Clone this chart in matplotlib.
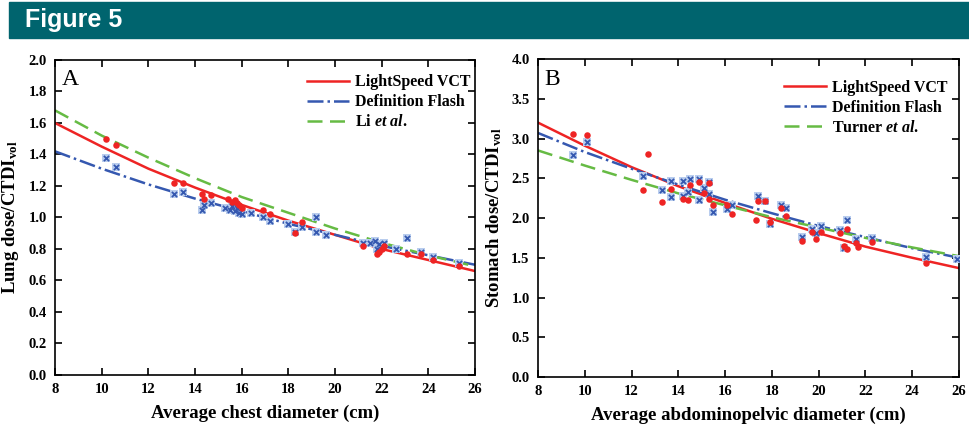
import numpy as np
import matplotlib
matplotlib.use("Agg")
import matplotlib.pyplot as plt
from matplotlib.patches import Rectangle

plt.rcParams['font.family'] = ['Liberation Serif', 'DejaVu Serif']
plt.rcParams['mathtext.fontset'] = 'custom'
plt.rcParams['mathtext.rm'] = 'Liberation Serif:bold'
plt.rcParams['mathtext.it'] = 'Liberation Serif:italic:bold'

# fitted curves read at each x tick
x_fit = [8, 10, 12, 14, 16, 18, 20, 22, 24, 26]
lung_vct = [1.60, 1.45, 1.31, 1.19, 1.08, 0.98, 0.89, 0.80, 0.73, 0.66]
lung_flash = [1.42, 1.31, 1.21, 1.12, 1.04, 0.96, 0.89, 0.82, 0.76, 0.70]
lung_li = [1.68, 1.52, 1.38, 1.25, 1.13, 1.03, 0.93, 0.84, 0.76, 0.69]

stom_vct = [3.20, 2.91, 2.64, 2.40, 2.19, 1.99, 1.81, 1.64, 1.50, 1.37]
stom_flash = [3.07, 2.83, 2.62, 2.42, 2.23, 2.06, 1.90, 1.76, 1.62, 1.50]
stom_turner = [2.85, 2.66, 2.48, 2.31, 2.16, 2.01, 1.88, 1.75, 1.63, 1.52]

# panel A points
xA_red = [10.2, 10.6, 13.1, 13.5, 14.3, 14.4, 14.7, 15.4, 15.6, 15.7, 15.8, 15.9, 16.0,
          16.9, 17.2, 18.3, 18.6, 21.2, 21.8, 21.9, 22.0, 22.1, 23.1, 23.7, 24.2, 25.3]
yA_red = [1.50, 1.46, 1.22, 1.22, 1.15, 1.12, 1.14, 1.12, 1.10, 1.11, 1.09, 1.08, 1.06,
          1.05, 1.02, 0.90, 0.97, 0.82, 0.77, 0.78, 0.80, 0.82, 0.77, 0.77, 0.73, 0.69]
xA_blue = [10.2, 10.6, 13.1, 13.5, 14.3, 14.4, 14.7, 15.3, 15.5, 15.6, 15.7, 15.8, 15.9,
           16.0, 16.4, 16.9, 17.2, 18.0, 18.3, 18.6, 19.2, 19.2, 19.6, 21.2, 21.5, 21.7,
           21.8, 21.9, 22.1, 22.6, 23.1, 23.7, 24.2, 25.3]
yA_blue = [1.38, 1.32, 1.15, 1.16, 1.05, 1.08, 1.09, 1.06, 1.05, 1.07, 1.04, 1.06, 1.03,
           1.02, 1.03, 1.00, 0.98, 0.96, 0.91, 0.94, 1.00, 0.91, 0.89, 0.84, 0.84, 0.85,
           0.80, 0.83, 0.84, 0.80, 0.87, 0.78, 0.75, 0.71]

# panel B points
xB_red = [9.5, 10.1, 12.7, 12.5, 13.3, 13.7, 14.2, 14.4, 14.5, 14.9, 15.3, 15.1, 15.3,
          15.5, 16.1, 16.3, 17.3, 17.4, 17.7, 17.9, 18.4, 18.6, 19.3, 19.7, 19.9, 20.1,
          20.9, 21.2, 21.1, 21.2, 21.6, 21.7, 22.3, 24.6]
yB_red = [3.06, 3.04, 2.81, 2.35, 2.20, 2.37, 2.24, 2.23, 2.42, 2.45, 2.44, 2.31, 2.24,
          2.16, 2.17, 2.05, 1.97, 2.22, 2.21, 1.95, 2.12, 2.02, 1.71, 1.82, 1.74, 1.83,
          1.81, 1.86, 1.65, 1.61, 1.68, 1.64, 1.70, 1.43]
xB_blue = [9.5, 10.1, 12.5, 13.3, 13.7, 13.7, 14.2, 14.2, 14.4, 14.5, 14.9, 14.9, 15.1,
           15.3, 15.3, 15.5, 16.1, 16.3, 17.4, 17.7, 17.9, 18.4, 18.6, 19.3, 19.7, 19.9,
           20.1, 20.9, 21.2, 21.1, 21.6, 22.3, 24.6, 25.9]
yB_blue = [2.79, 2.95, 2.53, 2.35, 2.46, 2.27, 2.46, 2.28, 2.33, 2.49, 2.49, 2.23, 2.38,
           2.45, 2.30, 2.08, 2.11, 2.17, 2.28, 2.21, 1.93, 2.16, 2.12, 1.76, 1.86, 1.81,
           1.90, 1.85, 1.97, 1.62, 1.73, 1.75, 1.51, 1.49]

red = '#ee2424'
blue = '#3558b0'
green = '#66bb44'

fig = plt.figure(figsize=(9.69, 4.24), dpi=100)

# title banner
fig.patches.append(Rectangle((0.0093, 0.9104), 0.9907, 0.0846, transform=fig.transFigure,
                             color='#00646e', zorder=0))
fig.text(0.026, 0.952, 'Figure 5', color='white', fontsize=18, fontweight='bold',
         family=['Liberation Sans Narrow', 'Liberation Sans'], va='center', ha='left')


def draw_panel(ax, curves, labels, xr, yr, xb, yb, ylim, yticks, ylabel, xlabel, letter, leg_pos):
    l1, = ax.plot(x_fit, curves[0], '-', color=red, lw=1.8)
    l2, = ax.plot(x_fit, curves[1], '-.', color=blue, lw=1.8)
    l3, = ax.plot(x_fit, curves[2], '--', color=green, lw=1.8, dashes=(6, 3))
    ax.scatter(xb, yb, marker='s', s=38, color='#b9cdee', lw=0, zorder=3)
    ax.scatter(xb, yb, marker='x', s=14, color=blue, lw=1.3, zorder=4)
    ax.scatter(xr, yr, marker='o', s=22, color=red, lw=0, zorder=5)
    ax.set_xlim(8, 26)
    ax.set_ylim(ylim)
    ax.set_xticks(range(8, 27, 2))
    ax.set_yticks(yticks)
    ax.set_yticklabels(['%.1f' % t for t in yticks])
    ax.tick_params(direction='in', top=True, right=True, length=5, width=1.2,
                   labelsize=10.5, pad=6)
    for lab in ax.get_xticklabels() + ax.get_yticklabels():
        lab.set_fontweight('bold')
    for sp in ax.spines.values():
        sp.set_linewidth(1.2)
    ax.set_xlabel(xlabel, fontsize=13.5, fontweight='bold', labelpad=6)
    ax.set_ylabel(ylabel, fontsize=13.5, fontweight='bold', labelpad=5)
    ax.text(0.015, 0.97, letter, transform=ax.transAxes, fontsize=17, va='top', ha='left')
    ax.legend([l1, l2, l3], labels, loc='upper left', bbox_to_anchor=leg_pos,
              frameon=False, handlelength=2.6, handletextpad=0.4, labelspacing=0.25,
              borderaxespad=0, borderpad=0, prop={'weight': 'bold', 'size': 11.5})


axA = fig.add_axes([0.0568, 0.1156, 0.4334, 0.7429])
draw_panel(axA, [lung_vct, lung_flash, lung_li],
           ['LightSpeed VCT', 'Definition Flash', r'Li $\mathit{et\ al.}$'],
           xA_red, yA_red, xA_blue, yA_blue, (0, 2.0),
           [0.0, 0.2, 0.4, 0.6, 0.8, 1.0, 1.2, 1.4, 1.6, 1.8, 2.0],
           r'Lung dose/CTDI$_{\mathrm{vol}}$', 'Average chest diameter (cm)', 'A', (0.60, 0.955))

axB = fig.add_axes([0.5552, 0.1108, 0.4345, 0.75])
draw_panel(axB, [stom_vct, stom_flash, stom_turner],
           ['LightSpeed VCT', 'Definition Flash', r'Turner $\mathit{et\ al.}$'],
           xB_red, yB_red, xB_blue, yB_blue, (0, 4.0),
           [0.0, 0.5, 1.0, 1.5, 2.0, 2.5, 3.0, 3.5, 4.0],
           r'Stomach dose/CTDI$_{\mathrm{vol}}$', 'Average abdominopelvic diameter (cm)', 'B',
           (0.585, 0.935))

fig.savefig('out.png', dpi=100)
